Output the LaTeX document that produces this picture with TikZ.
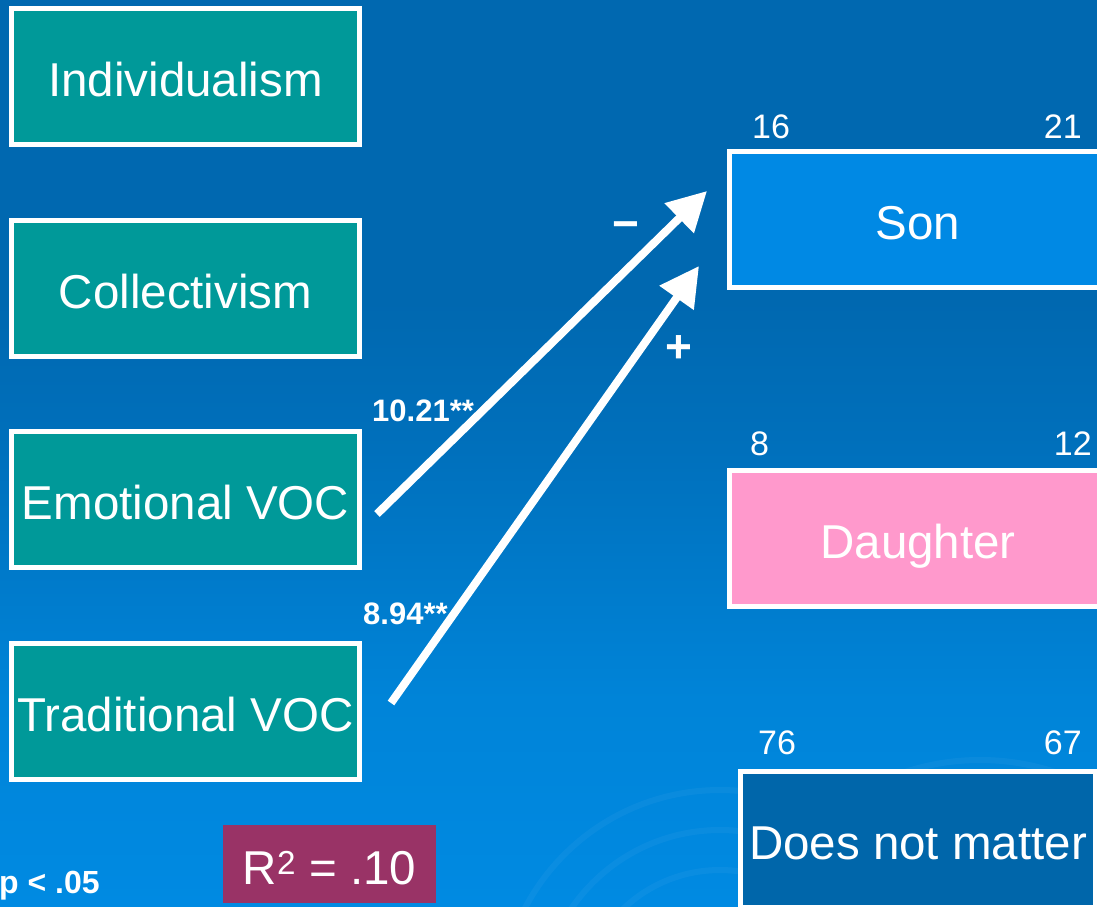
\documentclass[tikz,border=0pt]{standalone}
\usepackage{fontspec}
\setmainfont{Liberation Sans}
\usetikzlibrary{arrows.meta}
\definecolor{bgtop}{RGB}{0,104,176}
\definecolor{bgmid}{RGB}{0,112,188}
\definecolor{bglow}{RGB}{0,132,216}
\definecolor{bgbot}{RGB}{0,138,226}
\definecolor{tealbox}{RGB}{0,153,153}
\definecolor{sonblue}{RGB}{0,137,228}
\definecolor{pinkbox}{RGB}{255,153,204}
\definecolor{darkblue}{RGB}{0,102,170}
\definecolor{plum}{RGB}{153,51,102}
\pgfdeclareverticalshading{bgshade}{100bp}{color(0bp)=(bgbot); color(25bp)=(bgbot); color(36.4bp)=(bglow); color(50.2bp)=(bgmid); color(58.4bp)=(bgtop); color(100bp)=(bgtop)}
\tikzset{
  boxbase/.style={draw=white, line width=5pt, inner sep=0pt, text=white,
    font=\fontsize{47.5}{47.5}\selectfont, text height=40pt, text depth=0pt},
  leftbox/.style={boxbase, fill=tealbox, minimum width=348pt, minimum height=136pt},
  numlab/.style={text=white, inner sep=0pt, font=\fontsize{34}{34}\selectfont},
  boldlab/.style={text=white, inner sep=0pt, font=\bfseries\fontsize{31}{31}\selectfont},
  signlab/.style={text=white, inner sep=0pt, font=\bfseries\fontsize{46}{46}\selectfont},
  pathArrow/.style={draw=white, line width=8pt, -{Triangle[length=39pt, width=40pt]}}
}
\begin{document}
\begin{tikzpicture}[x=1pt, y=-1pt]
\useasboundingbox (0,0) rectangle (1097,906);
\clip (0,0) rectangle (1097,906);
\shade[shading=bgshade] (0,0) rectangle (1097,906);
% faint swirls
\begin{scope}[draw=white, opacity=0.04, line width=6pt]
  \draw (720,1010) circle (140);
  \draw (720,1010) circle (180);
  \draw (720,1010) circle (220);
  \draw (980,1000) circle (240);
\end{scope}
% left boxes
\node[leftbox] (ind) at (185.5,76.5) {Individualism};
\node[leftbox] (col) at (185.5,288.5) {Collectivism};
\node[leftbox] (emo) at (185.5,499.5) {Emotional VOC};
\node[leftbox] (tra) at (185.5,711.5) {Traditional VOC};
% right boxes
\node[boxbase, fill=sonblue, minimum width=377pt, minimum height=136pt] (son) at (918,219.5) {Son};
\node[boxbase, fill=pinkbox, minimum width=377pt, minimum height=136pt] (dau) at (918,538.5) {Daughter};
\node[boxbase, fill=darkblue, minimum width=355pt, minimum height=136pt] (dnm) at (918,839) {Does not matter};
% numbers
\node[numlab, anchor=base west] (n16) at (752,138) {16};
\node[numlab, anchor=base east] (n21) at (1082,138) {21};
\node[numlab, anchor=base west] (n8) at (750,455) {8};
\node[numlab, anchor=base east] (n12) at (1092,455) {12};
\node[numlab, anchor=base west] (n76) at (758,754) {76};
\node[numlab, anchor=base east] (n67) at (1082,754) {67};
% R2 box
\node[fill=plum, text=white, inner sep=0pt, minimum width=213pt, minimum height=78pt,
  font=\fontsize{47.5}{47.5}\selectfont, text height=40pt, text depth=0pt] (rsq) at (329.5,864) {R\textsuperscript{2} = .10};
\node[boldlab, anchor=base west, font=\bfseries\fontsize{32}{32}\selectfont] (pval) at (-1,893) {p < .05};
% arrows
\coordinate (s1) at (377,514);
\coordinate (t1) at (707,191);
\coordinate (s2) at (391,703);
\coordinate (t2) at (699,266);
\draw[pathArrow] (s1) -- (t1);
\draw[pathArrow] (s2) -- (t2);
% labels
\node[boldlab, anchor=base west] (l1) at (372,421) {10.21**};
\node[boldlab, anchor=base west] (l2) at (363,624) {8.94**};
\node[signlab] (minus) at (626,231) {−};
\node[signlab] (plus) at (679,349) {+};
\end{tikzpicture}
\end{document}
